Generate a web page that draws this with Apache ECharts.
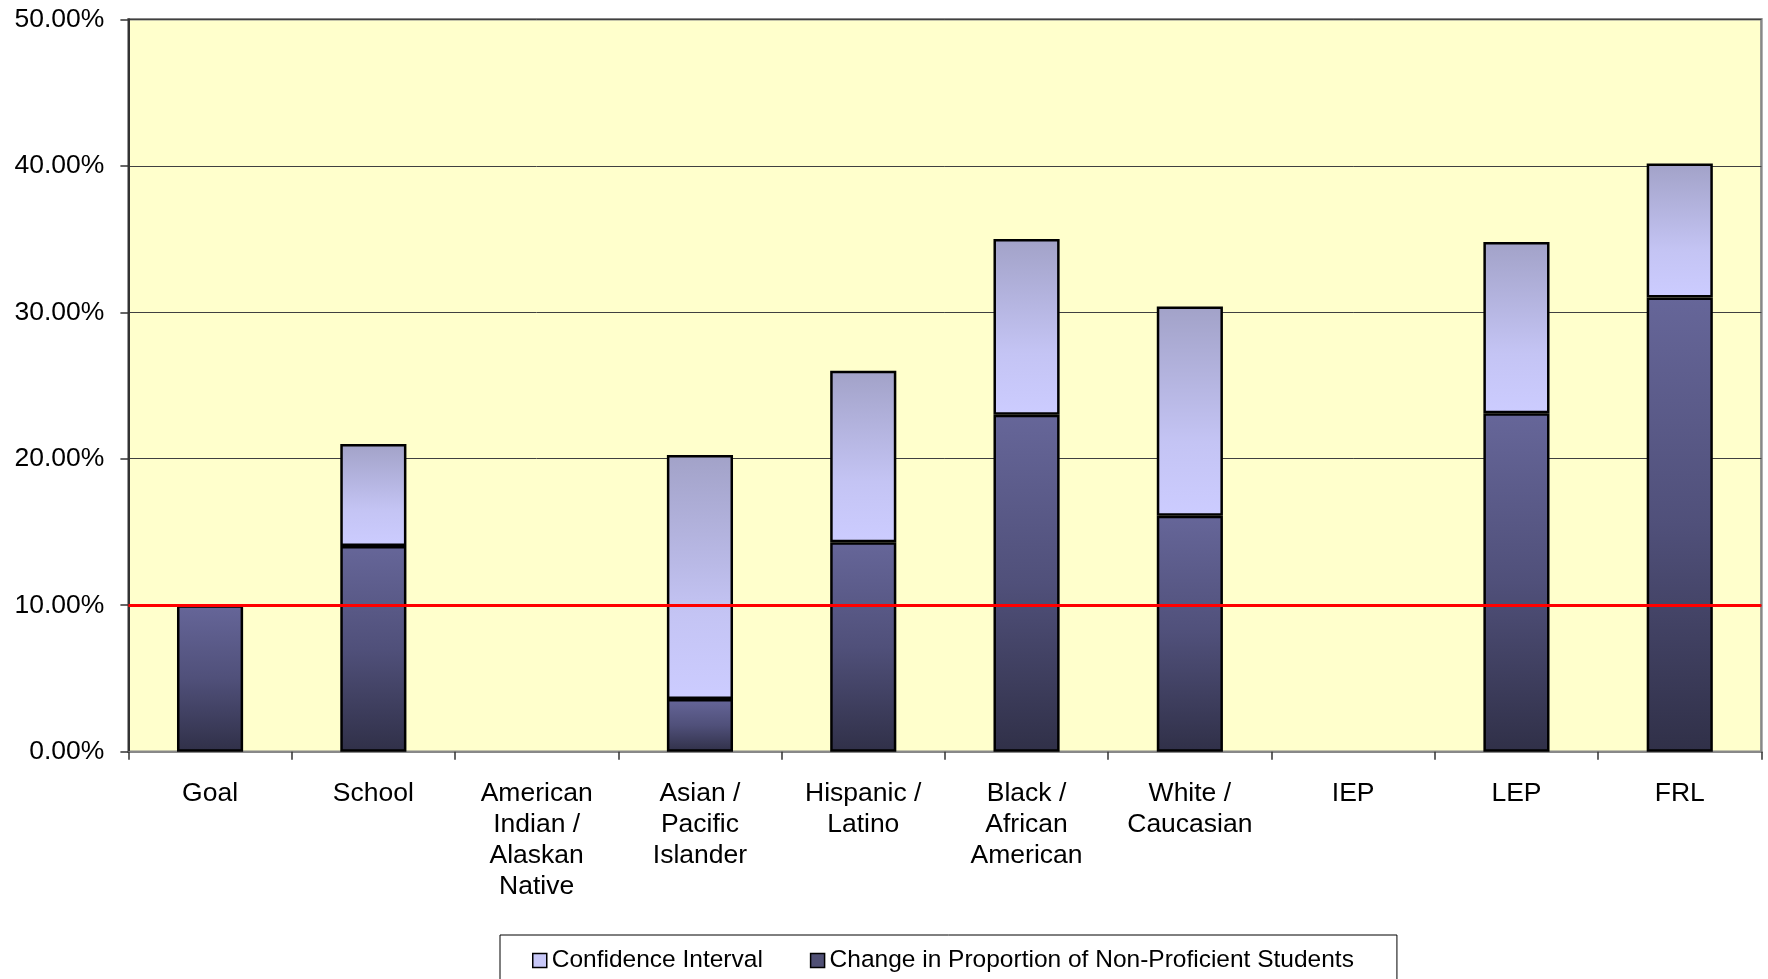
<!DOCTYPE html>
<html>
<head>
<meta charset="utf-8">
<script src="https://cdn.jsdelivr.net/npm/echarts@6/dist/echarts.min.js"></script>
<style>
html,body{margin:0;padding:0;background:#fff;}
#chart{width:1768px;height:979px;}
</style>
</head>
<body>
<div id="chart"></div>
<script>
const categories = ['Goal', 'School', 'American\nIndian /\nAlaskan\nNative', 'Asian /\nPacific\nIslander', 'Hispanic /\nLatino', 'Black /\nAfrican\nAmerican', 'White /\nCaucasian', 'IEP', 'LEP', 'FRL'];
const changeValues = [10.0, 14.05, null, 3.6, 14.3, 23.0, 16.1, null, 23.1, 31.0];
const confidenceValues = [null, 6.95, null, 16.65, 11.7, 12.0, 14.3, null, 11.7, 9.15];
const goalValue = 10;
const yTicks = [0, 10, 20, 30, 40, 50];

const FONT = "'Liberation Sans', Arial, sans-serif";
const chart = echarts.init(document.getElementById('chart'));

const darkGrad = new echarts.graphic.LinearGradient(0, 0, 0, 1, [
  {offset: 0, color: '#666699'},
  {offset: 0.5, color: '#50507a'},
  {offset: 1, color: '#303048'}
]);
const lightGrad = new echarts.graphic.LinearGradient(0, 0, 0, 1, [
  {offset: 0, color: '#a2a2c8'},
  {offset: 0.65, color: '#c4c4f4'},
  {offset: 1, color: '#ccccff'}
]);

chart.setOption({
  backgroundColor: '#ffffff',
  animation: false,
  textStyle: {fontFamily: FONT, color: '#000'},
  grid: {
    left: 128.4, right: 6.6, top: 19.3, bottom: 227.3,
    show: true, backgroundColor: '#ffffcc', borderColor: '#888888', borderWidth: 2.5,
    outerBoundsMode: 'none', containLabel: false
  },
  legend: {
    left: 500, top: 935,
    padding: [13, 43, 14, 32],
    itemGap: 47,
    itemWidth: 14, itemHeight: 14,
    borderColor: '#000', borderWidth: 1,
    textStyle: {fontFamily: FONT, fontSize: 24.5, color: '#000'},
    data: [
      {name: 'Confidence Interval', icon: 'rect', itemStyle: {color: '#c8c8f8', borderColor: '#000', borderWidth: 1.5}},
      {name: 'Change in Proportion of Non-Proficient Students', icon: 'rect', itemStyle: {color: '#505075', borderColor: '#000', borderWidth: 1.5}}
    ]
  },
  xAxis: {
    type: 'category',
    data: categories,
    axisLine: {show: true, lineStyle: {color: '#888888', width: 2}},
    axisTick: {show: true, alignWithLabel: false, length: 8, lineStyle: {color: '#333', width: 1.5}},
    axisLabel: {interval: 0, margin: 26, fontSize: 26.5, lineHeight: 31, color: '#000', fontFamily: FONT, align: 'center'},
    splitLine: {show: false}
  },
  yAxis: {
    type: 'value',
    min: 0, max: 50, interval: 10,
    axisLine: {show: true, lineStyle: {color: '#333', width: 2}},
    axisTick: {show: true, length: 8, lineStyle: {color: '#333', width: 1.5}},
    axisLabel: {margin: 24, fontSize: 26.5, color: '#000', fontFamily: FONT,
      formatter: v => yTicks.includes(v) ? v.toFixed(2) + '%' : ''},
    splitLine: {show: true, lineStyle: {color: '#404040', width: 1}}
  },
  series: [
    {
      name: 'Change in Proportion of Non-Proficient Students',
      type: 'bar', stack: 'total',
      barWidth: '40.5%',
      data: changeValues,
      itemStyle: {color: darkGrad, borderColor: '#000', borderWidth: 2.5}
    },
    {
      name: 'Confidence Interval',
      type: 'bar', stack: 'total',
      barWidth: '40.5%',
      data: confidenceValues,
      itemStyle: {color: lightGrad, borderColor: '#000', borderWidth: 2.5},
      markLine: {
        silent: true, symbol: 'none', z: 10,
        label: {show: false},
        lineStyle: {color: '#ff0000', width: 3, type: 'solid'},
        data: [{yAxis: goalValue}]
      }
    }
  ]
});
</script>
</body>
</html>
